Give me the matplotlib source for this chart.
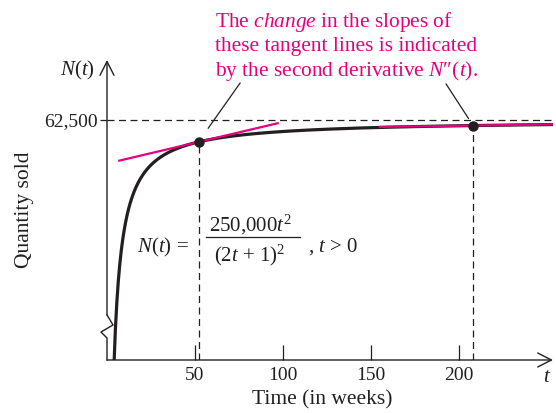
import numpy as np
import matplotlib.pyplot as plt

# N(t) = 250,000 t^2 / (2t + 1)^2
coef = 250000
t_points = [52, 208]              # points where tangents are drawn
tangent_spans = [(7, 97), (155, 253.4)]
x_ticks = [50, 100, 150, 200]
x_tick_labels = ["50", "100", "150", "200"]
y_ticks = [62500]
y_tick_labels = ["62,500"]

black = "#231f20"
magenta = "#e5007d"

plt.rcParams["font.family"] = ["Liberation Serif", "DejaVu Serif"]
plt.rcParams["mathtext.fontset"] = "custom"
plt.rcParams["mathtext.rm"] = "Liberation Serif"
plt.rcParams["mathtext.it"] = "Liberation Serif:italic"


def N(t):
    return coef * t**2 / (2 * t + 1) ** 2


def dN(t):
    return 2 * coef * t / (2 * t + 1) ** 3


W, H = 556, 413
fig = plt.figure(figsize=(W / 100, H / 100), dpi=100)
ax = fig.add_axes([107 / W, (H - 360) / H, 446 / W, 300 / H])
xmax = 253.4
ymin, ymax = 49540, 65740
ax.set_xlim(0, xmax)
ax.set_ylim(ymin, ymax)
for s in ax.spines.values():
    s.set_visible(False)


def px(x, y):
    # figure pixel coords (from top-left) -> figure fraction
    return x / W, 1 - y / H


# axes with arrowheads
arrow = dict(arrowstyle="->,head_length=0.55,head_width=0.28", lw=1.0,
             color=black, shrinkA=0, shrinkB=0, mutation_scale=18)
ax.annotate("", xy=(1.0, 0), xytext=(0, 0), xycoords="axes fraction",
            arrowprops=arrow)
ax.annotate("", xy=(0, 1.0), xytext=(0, 0.15), xycoords="axes fraction",
            arrowprops=arrow)
# axis break zigzag
ax.plot([0, 0.0135, -0.0135, 0, 0], [0.15, 0.1167, 0.0933, 0.0733, 0],
        transform=ax.transAxes, color=black, lw=1.0, clip_on=False)

# ticks
ax.set_xticks(x_ticks)
ax.set_xticklabels(x_tick_labels)
ax.tick_params(axis="x", direction="in", length=11, width=0.9, color=black,
               pad=5, labelsize=14, labelcolor=black)
ax.set_yticks(y_ticks)
ax.set_yticklabels(y_tick_labels)
ax.tick_params(axis="y", direction="out", length=5, width=0.9, color=black,
               pad=2, labelsize=14, labelcolor=black)

dash = (0, (5.6, 3.6))
ax.plot([0, xmax], [62500, 62500], ls=dash, lw=0.9, color=black)

# curve
t = np.linspace(3.5, xmax, 600)
ax.plot(t, N(t), color=black, lw=2.3, solid_capstyle="butt", zorder=3)

# tangent lines, points, dashed drop lines
for tp, (a, b) in zip(t_points, tangent_spans):
    tt = np.array([a, b])
    ax.plot(tt, N(tp) + dN(tp) * (tt - tp), color=magenta, lw=1.6, zorder=4)
    ax.plot([tp, tp], [ymin, N(tp)], ls=dash, lw=0.9, color=black)
    ax.plot([tp], [N(tp)], "o", color=black, ms=6.5, zorder=5)

# pointer lines from the note to the points
ax.annotate("", xy=(t_points[0], N(t_points[0])), xytext=(30, 42.5),
            textcoords="offset points",
            arrowprops=dict(arrowstyle="-", lw=0.9, color=black,
                            shrinkA=0, shrinkB=12))
ax.annotate("", xy=(t_points[1], N(t_points[1])), xytext=(-19.5, 30),
            textcoords="offset points",
            arrowprops=dict(arrowstyle="-", lw=0.9, color=black,
                            shrinkA=0, shrinkB=6))

# note text
note = ["The $change$ in the slopes of",
        "these tangent lines is indicated",
        "by the second derivative $N$\u2033($t$)."]
for i, line in enumerate(note):
    fig.text(*px(215, 27 + 24.5 * i), line, color=magenta, fontsize=15.4,
             ha="left", va="baseline")

# formula
fs = 15
fig.text(*px(137, 252), "$N$($t$) =", fontsize=fs, color=black,
         va="baseline")
fig.text(*px(251, 231), "250,000$t^2$", fontsize=fs, color=black,
         ha="center", va="baseline")
fig.add_artist(plt.Line2D([206 / W, 300 / W], [1 - 237 / H, 1 - 237 / H],
                          color=black, lw=0.9))
fig.text(*px(250, 261), "(2$t$ + 1)$^2$", fontsize=fs, color=black,
         ha="center", va="baseline")
fig.text(*px(308, 252), ", $t$ > 0", fontsize=fs, color=black,
         va="baseline")

# axis labels
fig.text(*px(77, 70), "$N$($t$)", fontsize=15, color=black, ha="center",
         va="center")
fig.text(*px(547, 378), "$t$", fontsize=15, color=black, ha="center",
         va="center")
fig.text(*px(25, 210), "Quantity sold", fontsize=15.5, color=black,
         rotation=90, ha="center", va="center")
fig.text(*px(322, 400), "Time (in weeks)", fontsize=15.5, color=black,
         ha="center", va="center")

fig.savefig("out.png", dpi=100)
